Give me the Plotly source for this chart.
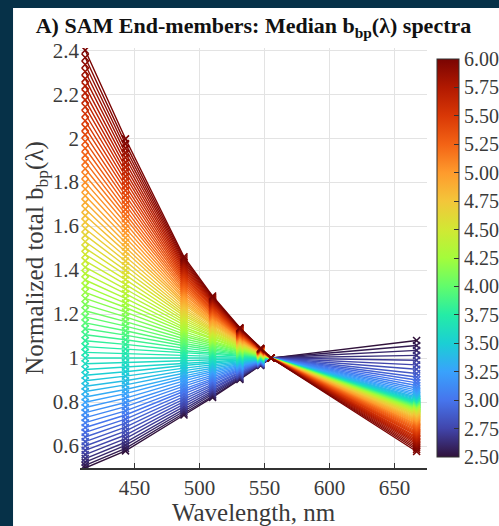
import plotly.graph_objects as go
from plotly.colors import sample_colorscale

# Band centres (nm) at which each end-member spectrum is sampled
wavelengths = [412, 443, 488, 510, 531, 547, 555, 667]

# End-member colour parameter (colour bar value)
c_vals = [2.50, 2.55, 2.60, 2.65, 2.70, 2.75, 2.80, 2.85, 2.90, 2.95,
          3.00, 3.05, 3.10, 3.15, 3.20, 3.25, 3.30, 3.35, 3.40, 3.45,
          3.50, 3.55, 3.60, 3.65, 3.70, 3.75, 3.80, 3.85, 3.90, 3.95,
          4.00, 4.05, 4.10, 4.15, 4.20, 4.25, 4.30, 4.35, 4.40, 4.45,
          4.50, 4.55, 4.60, 4.65, 4.70, 4.75, 4.80, 4.85, 4.90, 4.95,
          5.00, 5.05, 5.10, 5.15, 5.20, 5.25, 5.30, 5.35, 5.40, 5.45,
          5.50, 5.55, 5.60, 5.65, 5.70, 5.75, 5.80, 5.85, 5.90, 5.95,
          6.00]

# Normalized median bbp at each band, one entry per end-member
bbp_412 = [0.500, 0.512, 0.527, 0.543, 0.561, 0.580, 0.600, 0.620, 0.641, 0.662,
           0.684, 0.706, 0.729, 0.752, 0.775, 0.799, 0.823, 0.848, 0.872, 0.897,
           0.922, 0.948, 0.974, 1.000, 1.026, 1.052, 1.079, 1.106, 1.133, 1.160,
           1.187, 1.215, 1.243, 1.271, 1.299, 1.327, 1.355, 1.384, 1.413, 1.442,
           1.471, 1.500, 1.529, 1.559, 1.588, 1.618, 1.648, 1.678, 1.708, 1.738,
           1.769, 1.799, 1.830, 1.861, 1.892, 1.923, 1.954, 1.985, 2.016, 2.048,
           2.079, 2.111, 2.143, 2.174, 2.206, 2.238, 2.271, 2.303, 2.335, 2.367,
           2.400]
bbp_443 = [0.578, 0.589, 0.603, 0.617, 0.634, 0.650, 0.668, 0.686, 0.704, 0.722,
           0.741, 0.760, 0.779, 0.798, 0.818, 0.838, 0.857, 0.878, 0.897, 0.918,
           0.938, 0.959, 0.979, 1.000, 1.021, 1.041, 1.062, 1.083, 1.104, 1.124,
           1.145, 1.166, 1.187, 1.209, 1.230, 1.250, 1.271, 1.293, 1.314, 1.335,
           1.357, 1.378, 1.399, 1.420, 1.441, 1.462, 1.484, 1.505, 1.526, 1.547,
           1.569, 1.590, 1.612, 1.634, 1.655, 1.676, 1.698, 1.719, 1.740, 1.762,
           1.783, 1.805, 1.826, 1.847, 1.868, 1.890, 1.912, 1.933, 1.954, 1.975,
           1.997]
bbp_488 = [0.741, 0.749, 0.758, 0.768, 0.779, 0.790, 0.802, 0.813, 0.825, 0.837,
           0.849, 0.860, 0.872, 0.884, 0.896, 0.908, 0.919, 0.931, 0.943, 0.954,
           0.966, 0.977, 0.989, 1.000, 1.011, 1.022, 1.033, 1.045, 1.056, 1.066,
           1.077, 1.088, 1.099, 1.109, 1.120, 1.130, 1.140, 1.151, 1.161, 1.171,
           1.181, 1.192, 1.201, 1.211, 1.221, 1.231, 1.241, 1.251, 1.260, 1.270,
           1.279, 1.289, 1.298, 1.308, 1.317, 1.326, 1.336, 1.345, 1.354, 1.363,
           1.372, 1.381, 1.390, 1.399, 1.408, 1.416, 1.425, 1.434, 1.442, 1.451,
           1.460]
bbp_510 = [0.821, 0.827, 0.834, 0.841, 0.849, 0.857, 0.865, 0.873, 0.881, 0.889,
           0.898, 0.906, 0.914, 0.922, 0.930, 0.938, 0.946, 0.954, 0.962, 0.970,
           0.977, 0.985, 0.993, 1.000, 1.007, 1.015, 1.022, 1.029, 1.036, 1.043,
           1.050, 1.057, 1.064, 1.071, 1.077, 1.084, 1.090, 1.097, 1.103, 1.110,
           1.116, 1.122, 1.128, 1.134, 1.140, 1.147, 1.153, 1.158, 1.164, 1.170,
           1.176, 1.182, 1.187, 1.193, 1.199, 1.204, 1.210, 1.215, 1.220, 1.226,
           1.231, 1.236, 1.242, 1.247, 1.252, 1.257, 1.262, 1.267, 1.272, 1.277,
           1.282]
bbp_531 = [0.903, 0.906, 0.910, 0.914, 0.918, 0.923, 0.927, 0.932, 0.936, 0.941,
           0.945, 0.950, 0.954, 0.959, 0.963, 0.967, 0.972, 0.976, 0.980, 0.984,
           0.988, 0.992, 0.996, 1.000, 1.004, 1.008, 1.011, 1.015, 1.019, 1.022,
           1.026, 1.029, 1.033, 1.036, 1.040, 1.043, 1.046, 1.049, 1.053, 1.056,
           1.059, 1.062, 1.065, 1.068, 1.071, 1.074, 1.077, 1.080, 1.082, 1.085,
           1.088, 1.091, 1.094, 1.096, 1.099, 1.102, 1.104, 1.107, 1.109, 1.112,
           1.114, 1.117, 1.119, 1.122, 1.124, 1.127, 1.129, 1.132, 1.134, 1.136,
           1.138]
bbp_547 = [0.967, 0.968, 0.969, 0.971, 0.972, 0.974, 0.975, 0.977, 0.979, 0.980,
           0.982, 0.983, 0.985, 0.986, 0.988, 0.989, 0.991, 0.992, 0.993, 0.995,
           0.996, 0.997, 0.999, 1.000, 1.001, 1.003, 1.004, 1.005, 1.006, 1.007,
           1.008, 1.010, 1.011, 1.012, 1.013, 1.014, 1.015, 1.016, 1.017, 1.018,
           1.019, 1.020, 1.021, 1.022, 1.023, 1.024, 1.025, 1.026, 1.026, 1.027,
           1.028, 1.029, 1.030, 1.031, 1.032, 1.032, 1.033, 1.034, 1.035, 1.036,
           1.036, 1.037, 1.038, 1.039, 1.039, 1.040, 1.041, 1.041, 1.042, 1.043,
           1.044]
# 555 nm is the normalization band
bbp_555 = [1.0] * len(c_vals)
bbp_667 = [1.080, 1.057, 1.035, 1.012, 0.990, 0.969, 0.949, 0.930, 0.914, 0.900,
           0.887, 0.875, 0.864, 0.854, 0.845, 0.837, 0.830, 0.823, 0.817, 0.812,
           0.807, 0.803, 0.800, 0.797, 0.794, 0.791, 0.788, 0.786, 0.783, 0.780,
           0.778, 0.775, 0.773, 0.770, 0.768, 0.765, 0.762, 0.759, 0.756, 0.753,
           0.750, 0.747, 0.743, 0.739, 0.735, 0.730, 0.726, 0.721, 0.716, 0.711,
           0.706, 0.701, 0.696, 0.690, 0.685, 0.679, 0.673, 0.667, 0.661, 0.655,
           0.649, 0.642, 0.636, 0.629, 0.622, 0.615, 0.608, 0.600, 0.592, 0.584,
           0.575]

y_ticks = [0.6, 0.8, 1.0, 1.2, 1.4, 1.6, 1.8, 2.0, 2.2, 2.4]
y_ticktext = ["0.6", "0.8", "1", "1.2", "1.4", "1.6", "1.8", "2", "2.2", "2.4"]
x_ticks = [450, 500, 550, 600, 650]
cb_ticks = [2.50, 2.75, 3.00, 3.25, 3.50, 3.75, 4.00, 4.25, 4.50, 4.75,
            5.00, 5.25, 5.50, 5.75, 6.00]

C_MIN, C_MAX = 2.5, 6.0
SERIF = "Liberation Serif, Times New Roman, serif"
TEXT = "#3a3a3a"

colors = sample_colorscale("Turbo", [(c - C_MIN) / (C_MAX - C_MIN) for c in c_vals])

fig = go.Figure()
bands = [bbp_412, bbp_443, bbp_488, bbp_510, bbp_531, bbp_547, bbp_555, bbp_667]
for k, c in enumerate(c_vals):
    fig.add_trace(go.Scatter(
        x=wavelengths,
        y=[b[k] for b in bands],
        mode="lines+markers",
        line=dict(color=colors[k], width=1.4),
        marker=dict(symbol="x-thin", size=7, color=colors[k],
                    line=dict(color=colors[k], width=1.6)),
        showlegend=False,
        hoverinfo="skip",
    ))

# Colour bar carrier
fig.add_trace(go.Scatter(
    x=[wavelengths[0]], y=[bbp_412[0]], mode="markers",
    marker=dict(size=0.1, opacity=0, color=[C_MIN], cmin=C_MIN, cmax=C_MAX,
                colorscale="Turbo", showscale=True,
                colorbar=dict(
                    x=1.029, xanchor="left", xpad=0, y=0.5, yanchor="middle",
                    len=0.995, lenmode="fraction", thickness=22,
                    outlinewidth=1, outlinecolor="#333333",
                    tickvals=cb_ticks, ticktext=[f"{v:.2f}" for v in cb_ticks],
                    ticks="inside", ticklen=5, tickcolor="#333333",
                    tickfont=dict(family=SERIF, size=20, color=TEXT),
                )),
    showlegend=False, hoverinfo="skip",
))

# White panel on the dark page
fig.add_shape(type="rect", xref="paper", yref="paper",
              x0=-0.193, x1=1.3, y0=-0.2, y1=1.095,
              fillcolor="white", line=dict(width=0), layer="below")

fig.update_layout(
    width=499, height=526,
    margin=dict(l=80, r=72, t=48, b=58, autoexpand=False),
    paper_bgcolor="#063148",
    plot_bgcolor="white",
    font=dict(family=SERIF, color=TEXT),
    title=dict(
        text="<b>A) SAM End-members: Median b<sub>bp</sub>(λ) spectra</b>",
        font=dict(family=SERIF, size=22, color="#111111"),
        x=0.5, xref="paper", xanchor="center",
        y=0.952, yref="container", yanchor="middle",
    ),
    xaxis=dict(
        range=[408, 675], tickvals=x_ticks,
        ticks="inside", ticklen=5, tickcolor="#333333", tickwidth=1.2,
        showline=True, linecolor="#333333", linewidth=1.5,
        showgrid=True, gridcolor="#e3e3e3", gridwidth=1, zeroline=False,
        tickfont=dict(family=SERIF, size=21, color=TEXT),
        title=dict(text="Wavelength, nm", font=dict(family=SERIF, size=25, color=TEXT),
                   standoff=2),
    ),
    yaxis=dict(
        range=[0.5, 2.41], tickvals=y_ticks, ticktext=y_ticktext,
        ticks="", showline=False,
        showgrid=True, gridcolor="#e3e3e3", gridwidth=1, zeroline=False,
        tickfont=dict(family=SERIF, size=21, color=TEXT),
        title=dict(text="Normalized total b<sub>bp</sub>(λ)",
                   font=dict(family=SERIF, size=25, color=TEXT), standoff=2),
    ),
)

fig.write_html("out.html")
